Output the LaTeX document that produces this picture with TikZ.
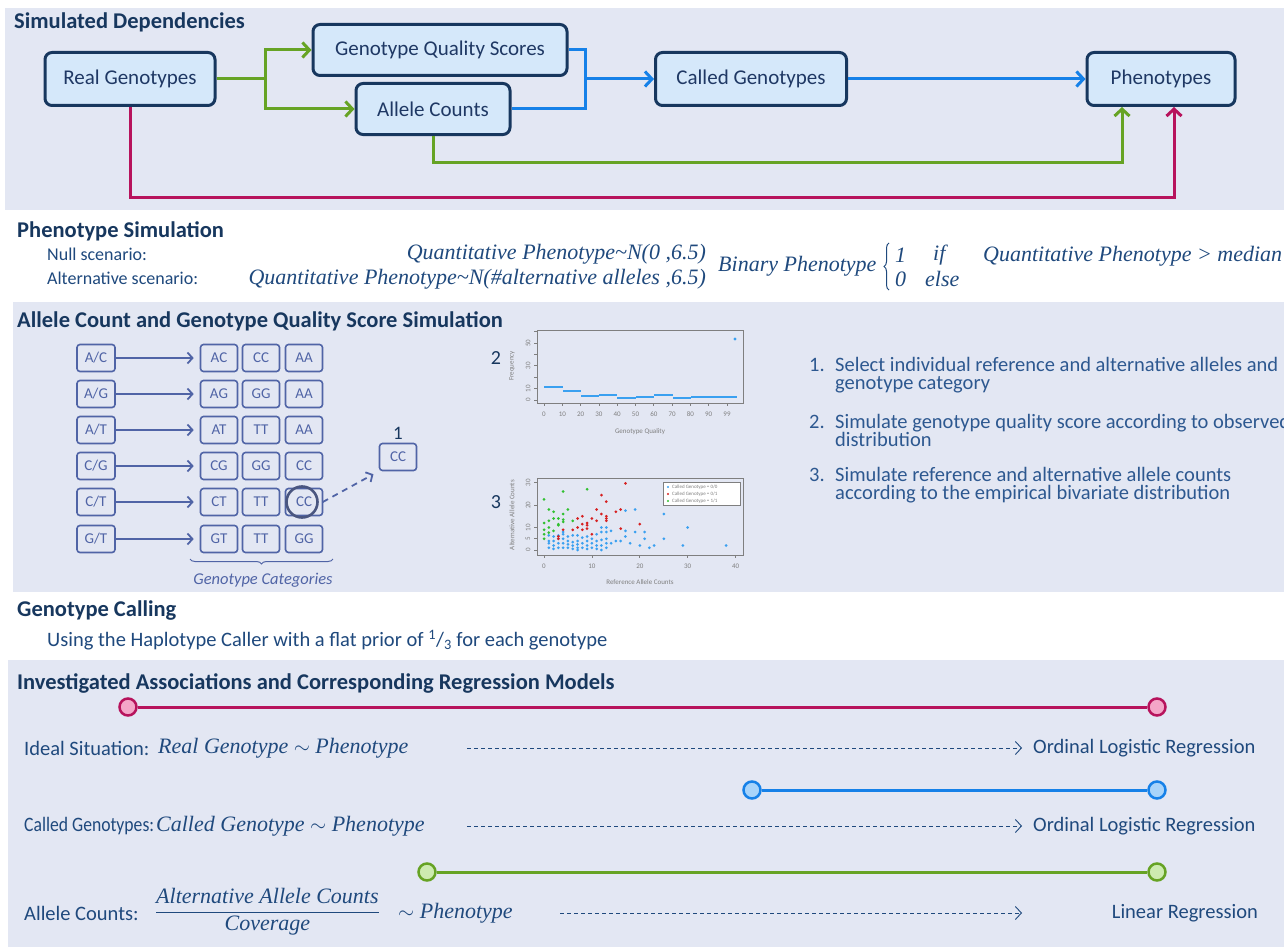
\documentclass[tikz,border=0pt]{standalone}
\usepackage{graphicx}
\usepackage{fontspec}
\setmainfont{Carlito}
\newfontfamily\mthfont{Liberation Serif}
\usetikzlibrary{arrows.meta,decorations.pathreplacing,calc}
\definecolor{lav}{HTML}{E3E7F3}
\definecolor{nodefill}{HTML}{D5E8FA}
\definecolor{navy}{HTML}{17375E}
\definecolor{nodetext}{HTML}{1F3864}
\definecolor{bodytext}{HTML}{1F497D}
\definecolor{listtext}{HTML}{2D5890}
\definecolor{grn}{HTML}{66A324}
\definecolor{blu}{HTML}{1681E8}
\definecolor{crim}{HTML}{B7135C}
\definecolor{slate}{HTML}{5064A6}
\definecolor{circcol}{HTML}{4A5680}
\definecolor{pinkf}{HTML}{F4A6C8}
\definecolor{bluef}{HTML}{A8D4FA}
\definecolor{grnf}{HTML}{CDEBB0}
\definecolor{plotgray}{HTML}{7F7F7F}
\definecolor{pblue}{HTML}{3AA0F0}
\definecolor{pred}{HTML}{D62020}
\definecolor{pgreen}{HTML}{30C030}
\tikzset{
  title/.style={anchor=west, inner sep=0, text=navy, font=\fontsize{22.5}{26}\selectfont\bfseries},
  txts/.style={anchor=west, inner sep=0, text=bodytext, font=\fontsize{18}{22}\selectfont},
  txt/.style={anchor=west, inner sep=0, text=bodytext, font=\fontsize{20.5}{24}\selectfont},
  mth/.style={inner sep=0, text=bodytext, font=\fontsize{22}{26}\selectfont\mthfont\itshape},
  lst/.style={anchor=west, inner sep=0, text=listtext, font=\fontsize{20.5}{24}\selectfont,
     text height=11pt, text depth=3pt},
  bignode/.style={draw=navy, line width=3pt, rounded corners=7pt, fill=nodefill, text=nodetext,
     font=\fontsize{21}{25}\selectfont, inner sep=0},
  conn/.style={line width=3pt, -{Straight Barb[length=7pt,width=15pt,line width=3pt]}},
  plain/.style={line width=3pt},
  gbox/.style={draw=slate, line width=1.6pt, rounded corners=3pt, minimum width=37pt,
     minimum height=27pt, inner sep=0, text=slate, font=\fontsize{15}{17}\selectfont},
  sarrow/.style={draw=slate, line width=1.8pt, -{Straight Barb[length=5pt,width=11pt,line width=1.8pt]}},
  endc/.style={circle, line width=2.5pt, minimum size=17pt, inner sep=0},
  darrow/.style={draw=bodytext, line width=0.9pt, dash pattern=on 4pt off 3pt,
     -{Straight Barb[length=6pt,width=13pt,line width=0.9pt]}},
  pframe/.style={draw=plotgray, line width=0.7pt},
  plab/.style={inner sep=0, text=plotgray, font=\fontsize{7}{8}\selectfont},
}
\begin{document}
\begin{tikzpicture}[x=1pt,y=-1pt]
\useasboundingbox (0,0) rectangle (1284,947);
\begin{scope}
\clip (0,0) rectangle (1284,947);
\fill[white] (0,0) rectangle (1284,947);
\fill[lav] (5,8) rectangle (1284,210);
\fill[lav] (13,302) rectangle (1284,592);
\fill[lav] (8,660) rectangle (1284,947);

% ---------- Section 1 ----------
\node[title] (t1) at (14,22) {Simulated Dependencies};
\node[bignode, minimum width=170pt, minimum height=53pt] (real) at (130,79) {Real Genotypes};
\node[bignode, minimum width=254pt, minimum height=51pt] (gqs) at (440,50) {Genotype Quality Scores};
\node[bignode, minimum width=154pt, minimum height=51pt] (ac) at (433,109) {Allele Counts};
\node[bignode, minimum width=191pt, minimum height=53pt] (cg) at (751,79) {Called Genotypes};
\node[bignode, minimum width=148pt, minimum height=53pt] (ph) at (1161,79) {Phenotypes};
\coordinate (gj) at (265,79);
\coordinate (bj) at (585,79);
\coordinate (g2) at (1122,162);
\coordinate (r2) at (1174,197);
\draw[grn, plain] (real.east) -- (gj);
\draw[grn, conn] (gj) |- (gqs.west);
\draw[grn, conn] (gj) |- (ac.west);
\draw[blu, plain] (gqs.east) -| (bj);
\draw[blu, plain] (ac.east) -| (bj);
\draw[blu, conn] (bj) -- (cg.west);
\draw[blu, conn] (cg.east) -- (ph.west);
\draw[grn, conn] (ac.south) |- (g2) -- (g2 |- ph.south);
\draw[crim, conn] (real.south) |- (r2) -- (r2 |- ph.south);

% ---------- Section 2 ----------
\node[title] (t2) at (17,231) {Phenotype Simulation};
\node[txts] (ns) at (47,254) {Null scenario:};
\node[txts] (as) at (47,278) {Alternative scenario:};
\node[mth, anchor=east] (q1) at (706,254) {Quantitative Phenotype\textasciitilde N(0 ,6.5)};
\node[mth, anchor=east] (q2) at (706,279) {Quantitative Phenotype\textasciitilde N(\#alternative alleles ,6.5)};
\node[mth, anchor=west] (bp) at (718,266) {Binary Phenotype};
\draw[bodytext, line width=1pt, decorate, decoration={brace, amplitude=5pt}] (889,290) -- (889,243);
\node[mth, anchor=west] (one1) at (895,255) {1};
\node[mth, anchor=west] (if1) at (933,255) {if};
\node[mth, anchor=west] (zero1) at (895,279) {0};
\node[mth, anchor=west] (else1) at (925,279) {else};
\node[mth, anchor=west] (qm) at (983,256) {Quantitative Phenotype > median};

% ---------- Section 3 ----------
\node[title] (t3) at (17,321) {Allele Count and Genotype Quality Score Simulation};
\foreach \k/\yy/\la/\lb/\ca/\cb/\cc in {1/358/A/C/AC/CC/AA, 2/394/A/G/AG/GG/AA, 3/430/A/T/AT/TT/AA,
   4/466/C/G/CG/GG/CC, 5/502/C/T/CT/TT/CC, 6/539/G/T/GT/TT/GG}{
  \node[gbox, minimum width=38pt] (l\k) at (96,\yy) {\la/\lb};
  \node[gbox] (a\k) at (219,\yy) {\ca};
  \node[gbox] (b\k) at (261,\yy) {\cb};
  \node[gbox] (c\k) at (304,\yy) {\cc};
  \draw[sarrow, shorten >=6pt] (l\k.east) -- (a\k.west);
}
\node[circle, draw=circcol, line width=2.6pt, minimum size=31pt, inner sep=0] (sel) at (302,502) {};
\node[gbox] (pick) at (398,457) {CC};
\node[inner sep=0, text=navy, font=\fontsize{19}{22}\selectfont] (pl) at (398,433) {1};
\draw[sarrow, dashed, dash pattern=on 6pt off 5pt, shorten >=6pt] ([xshift=4pt]sel.east) -- (pick.south west);
\draw[slate, line width=1pt, decorate, decoration={brace, amplitude=5pt, mirror}] (190,559) -- (333,559);
\node[inner sep=0, text=slate, font=\fontsize{16.5}{19}\selectfont\itshape] (gc) at (263,580) {Genotype Categories};

% plot 2
\node[inner sep=0, text=navy, font=\fontsize{20}{24}\selectfont] (n2) at (496,358) {2};
\draw[pframe] (537,330) rectangle (743,403);
\foreach \i/\l in {0/0,1/10,2/20,3/30,4/40,5/50,6/60,7/70,8/80,9/90,10/99}{
  \draw[pframe] ({544+18.3*\i},403) -- ({544+18.3*\i},406);
  \node[plab] at ({544+18.3*\i},414) {\l};
}
\foreach \v in {0,10,20,30,40,50,60}{
  \draw[pframe] (537,{400-1.14*\v}) -- (534,{400-1.14*\v});
}
\foreach \v in {0,10,30,50}{
  \node[plab, rotate=90] at (528,{400-1.14*\v}) {\v};
}
\node[plab, rotate=90] at (512,366) {Frequency};
\node[plab] at (640,432) {Genotype Quality};
\foreach \a/\b/\yy in {544/563/387, 563/581/391, 581/599/396, 599/617/395, 617/636/398,
   636/654/397, 654/673/395, 673/691/398, 691/737/397}{
  \draw[pblue, line width=1.6pt] (\a,\yy) -- (\b,\yy);
}
\fill[pblue] (735,339) circle (1.6pt);

% plot 3
\node[inner sep=0, text=navy, font=\fontsize{20}{24}\selectfont] (n3) at (496,502) {3};
\draw[pframe] (537,478) rectangle (743,555);
\foreach \v in {0,10,20,30,40}{
  \draw[pframe] ({544+4.79*\v},555) -- ({544+4.79*\v},558);
  \node[plab] at ({544+4.79*\v},566) {\v};
}
\foreach \v in {0,5,10,20,30}{
  \draw[pframe] (537,{550-2.25*\v}) -- (534,{550-2.25*\v});
  \node[plab, rotate=90] at (528,{550-2.25*\v}) {\v};
}
\node[plab, rotate=90] at (512,515) {Alternative Allele Counts};
\node[plab] at (640,582) {Reference Allele Counts};
\foreach \r/\a in {1/1,1/3,1/4,1/6.5,2/0.5,2/2,2/4,2/6,3/1,3/3,3/5,3/6.5,4/1,4/3,4/5,4/7,4/8,5/1,5/2.5,5/4,5/6,
  6/0.5,6/2,6/3.5,6/6.5,7/1,7/2.5,7/4,7/6.5,7/0,8/1,8/3,8/5.5,9/0.5,9/2,9/4,9/6,10/1,10/3,10/5,11/0.5,11/2,
  11/4,11/7,12/0,12/2,12/4.5,12/8,12/10,13/1,13/3,13/5,13/8,13/10,14/3,14/8.5,15/4,16/4,17/6,17/8.5,17/17.5,
  18/3,19/8,19/18,20/2,21/5,21/8,22/1,23/2,25/5,25/16,29/2,30/10,38/2}{
  \fill[pblue] ({544+4.79*\r},{550-2.25*\a}) circle (1.5pt);
}
\foreach \r/\a in {17/29.6,12/24.4,13/21.5,11/18,16/18,15/17,8/15,12/16,13/15,13/14,13/13,7/14,10/14,11/13,
  9/12,9/11,9/9.5,8/11.5,7/10,6/9,4/9,3/6,3/5,10/7,20/11.5,16/9.5,8/9}{
  \fill[pred] ({544+4.79*\r},{550-2.25*\a}) circle (1.5pt);
}
\foreach \r/\a in {0/22.5,1/18,2/17,4/26,9/27,5/18,0/12,1/13,2/14,3/14,4/16,4/13.5,0/9,1/10,2/8.5,3/11,
  0/7,1/7.7,0/5,3/11.5,4/12.5,6/13}{
  \fill[pgreen] ({544+4.79*\r},{550-2.25*\a}) circle (1.5pt);
}
\draw[pframe, fill=white] (663,482) rectangle (740,505);
\fill[pblue] (668,487) circle (1.2pt);
\fill[pred] (668,494) circle (1.2pt);
\fill[pgreen] (668,501) circle (1.2pt);
\node[plab, anchor=west, font=\fontsize{5}{6}\selectfont] at (672,487) {Called Genotype = 0/0};
\node[plab, anchor=west, font=\fontsize{5}{6}\selectfont] at (672,494) {Called Genotype = 0/1};
\node[plab, anchor=west, font=\fontsize{5}{6}\selectfont] at (672,501) {Called Genotype = 1/1};

% list
\node[lst] (i1) at (809,367) {1.};
\node[lst] (i1a) at (835,367) {Select individual reference and alternative alleles and};
\node[lst] (i1b) at (835,385) {genotype category};
\node[lst] (i2) at (809,424) {2.};
\node[lst] (i2a) at (835,424) {Simulate genotype quality score according to observed};
\node[lst] (i2b) at (835,442) {distribution};
\node[lst] (i3) at (809,477) {3.};
\node[lst] (i3a) at (835,477) {Simulate reference and alternative allele counts};
\node[lst] (i3b) at (835,495) {according to the empirical bivariate distribution};

% ---------- Section 4 ----------
\node[title] (t4) at (17,611) {Genotype Calling};
\node[txt] (hc) at (47,640) {Using the Haplotype Caller with a flat prior of \textsuperscript{1}/\textsubscript{3} for each genotype};

% ---------- Section 5 ----------
\node[title] (t5) at (17,683) {Investigated Associations and Corresponding Regression Models};
\node[endc, draw=crim, fill=pinkf] (ra) at (128,707) {};
\node[endc, draw=crim, fill=pinkf] (rb) at (1157,707) {};
\draw[crim, line width=3pt] (ra) -- (rb);
\node[endc, draw=blu, fill=bluef] (ba) at (752,790) {};
\node[endc, draw=blu, fill=bluef] (bb) at (1157,790) {};
\draw[blu, line width=3pt] (ba) -- (bb);
\node[endc, draw=grn, fill=grnf] (ga) at (427,872) {};
\node[endc, draw=grn, fill=grnf] (gb) at (1157,872) {};
\draw[grn, line width=3pt] (ga) -- (gb);

\node[txt] (is) at (24,748) {Ideal Situation:};
\node[mth, anchor=west] (im) at (158,748) {Real Genotype $\sim$ Phenotype};
\node[txt] (o1) at (1033,748) {Ordinal Logistic Regression};
\coordinate (d1) at (467,748);
\draw[darrow, shorten >=11pt] (d1) -- (o1.west);

\node[txt] (cgl) at (24,826) {\scalebox{0.86}[1]{Called Genotypes:}};
\node[mth, anchor=west] (cm) at (156,826) {Called Genotype $\sim$ Phenotype};
\node[txt] (o2) at (1033,826) {Ordinal Logistic Regression};
\coordinate (d2) at (467,826);
\draw[darrow, shorten >=11pt] (d2) -- (o2.west);

\node[txt] (acl) at (24,913) {Allele Counts:};
\node[mth, anchor=west] (fr) at (156,912) {\arrayrulewidth=1pt\begin{tabular}{@{}c@{}}Alternative Allele Counts\\\hline Coverage\end{tabular}};
\node[mth, anchor=west] (fp) at (398,913) {$\sim$ Phenotype};
\node[txt, anchor=east] (lr) at (1258,913) {Linear Regression};
\coordinate (d3) at (560,913);
\coordinate (d3e) at (1022,913);
\draw[darrow] (d3) -- (d3e);
\end{scope}
\end{tikzpicture}
\end{document}
